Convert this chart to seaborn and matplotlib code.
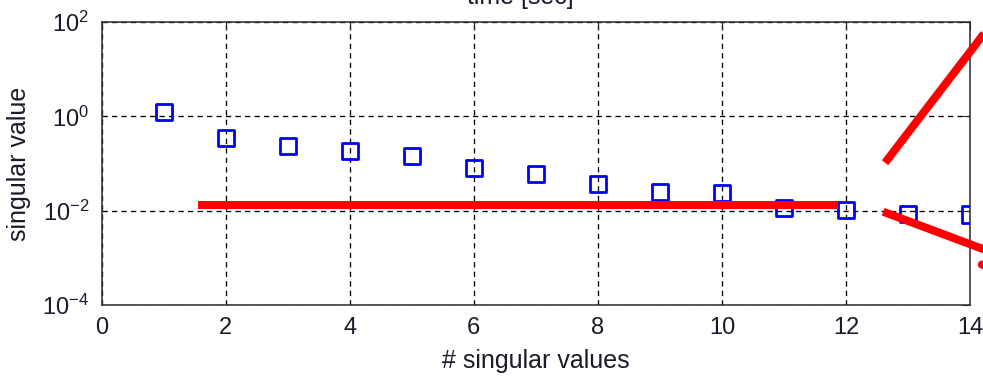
import numpy as np
import pandas as pd
import matplotlib
matplotlib.use("Agg")
import matplotlib.pyplot as plt
import seaborn as sns

# singular value spectrum
n_values = [1, 2, 3, 4, 5, 6, 7, 8, 9, 10, 11, 12, 13, 14]
singular_values = [1.24, 0.348, 0.239, 0.181, 0.147, 0.0805, 0.060,
                   0.0374, 0.0253, 0.0237, 0.0114, 0.0105, 0.0085, 0.0083]

# red marker strokes drawn over the plot
plateau_x = [1.55, 11.87]
plateau_y = [0.0129, 0.0129]
rise_x = [12.63, 14.45]
rise_y = [0.104, 10 ** 2.14]
fall_x = [12.60, 14.45]
fall_y = [0.0095, 0.00117]
tail_x = [14.19, 14.6]
tail_y = [7.2e-4, 5.0e-4]

xticks = [0, 2, 4, 6, 8, 10, 12, 14]
yticks = [1e-4, 1e-2, 1e0, 1e2]

sns.set_style("white")
plt.rcParams["font.family"] = ["Liberation Sans", "DejaVu Sans"]
plt.rcParams["mathtext.fontset"] = "custom"
plt.rcParams["mathtext.rm"] = "Liberation Sans"
plt.rcParams["mathtext.default"] = "regular"

fig = plt.figure(figsize=(9.83, 3.77), dpi=100)
ax = fig.add_axes([0.1035, 0.191, 0.8833, 0.7505])

df = pd.DataFrame({"n": n_values, "sv": singular_values})
sns.scatterplot(data=df, x="n", y="sv", ax=ax, marker="s", s=135,
                facecolor="none", edgecolor="#0000ff", linewidth=2.0,
                zorder=3, legend=False)

red_kw = dict(color="#ff0000", linewidth=5.8, clip_on=False, zorder=4,
              sort=False, legend=False)
sns.lineplot(x=plateau_x, y=plateau_y, ax=ax, solid_capstyle="butt", **red_kw)
sns.lineplot(x=rise_x, y=rise_y, ax=ax, solid_capstyle="butt", **red_kw)
sns.lineplot(x=fall_x, y=fall_y, ax=ax, solid_capstyle="butt", **red_kw)
sns.lineplot(x=tail_x, y=tail_y, ax=ax, solid_capstyle="round", **red_kw)

ax.set_yscale("log")
ax.set_xlim(0, 14)
ax.set_ylim(1e-4, 1e2)
ax.set_xticks(xticks)
ax.set_yticks(yticks)
ax.yaxis.set_minor_locator(matplotlib.ticker.NullLocator())

ax.grid(True, which="major", color="black", linestyle=(0, (4.0, 3.2)),
        linewidth=0.95)
ax.set_axisbelow(True)

for s in ax.spines.values():
    s.set_visible(True)
    s.set_color("#2b2b2b")
    s.set_linewidth(1.1)

ax.tick_params(axis="both", which="major", direction="in", length=6,
               width=0.8, color="#2b2b2b", top=True, right=True,
               labelsize=17, labelcolor="#1a1a2a", pad=9)

ax.set_xlabel("# singular values", fontsize=18, color="#1a1a2a", labelpad=7)
ax.set_ylabel("singular value", fontsize=18, color="#1a1a2a", labelpad=8)
ax.set_title("time [sec]", fontsize=18, color="#1a1a2a", pad=13, x=0.482)

fig.savefig("out.png", dpi=100, facecolor="white")
